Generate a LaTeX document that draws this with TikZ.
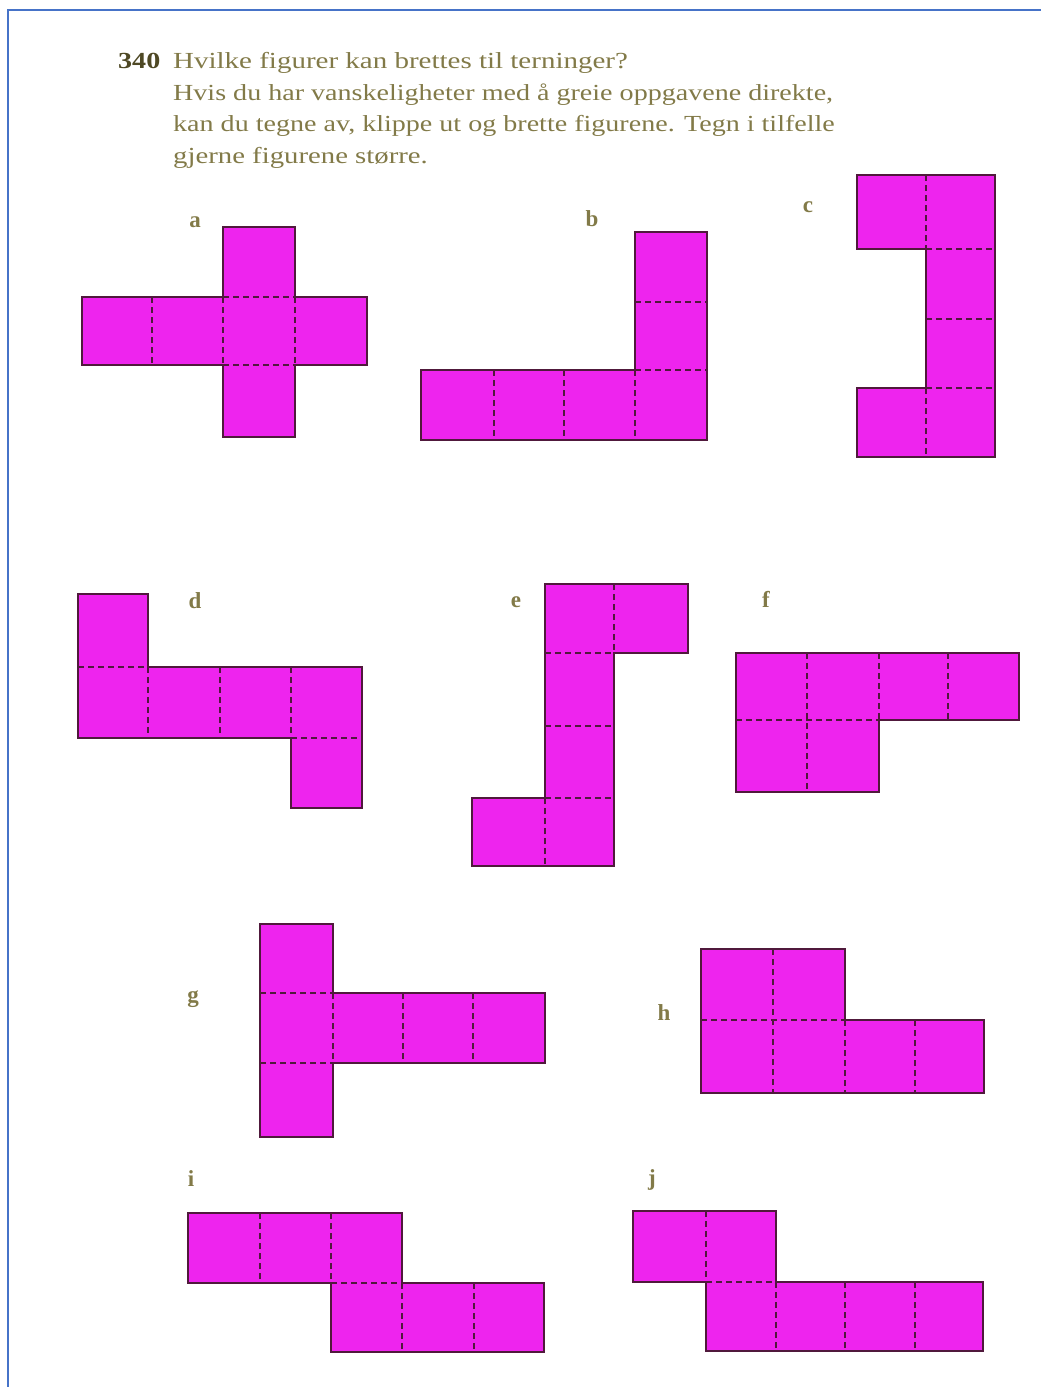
\documentclass[tikz,border=0pt]{standalone}
\usepackage{fontspec}
\setmainfont{Liberation Serif}
\definecolor{netpink}{RGB}{238,36,238}
\definecolor{netedge}{RGB}{80,25,60}
\definecolor{inkolive}{RGB}{130,122,72}
\definecolor{inkdark}{RGB}{78,72,36}
\definecolor{frameblue}{RGB}{70,115,200}
\newcommand{\widetext}[2][1.22]{\scalebox{#1}[1]{#2}}
\tikzset{
  face/.style={fill=netpink, draw=netedge, line width=1.4pt, line join=miter},
  fold/.style={draw=netedge, line width=1.2pt, dash pattern=on 6pt off 4pt},
  lbl/.style={text=inkolive, anchor=base, inner sep=0pt, font=\fontsize{23}{23}\selectfont\bfseries},
  txt/.style={text=inkolive, anchor=base west, inner sep=0pt, font=\fontsize{23}{23}\selectfont},
  num/.style={text=inkdark, anchor=base west, inner sep=0pt, font=\fontsize{23}{23}\selectfont\bfseries},
  frame/.style={draw=frameblue, line width=1.6pt}
}
\begin{document}
\begin{tikzpicture}[x=1pt,y=-1pt]
\useasboundingbox (0,0) rectangle (1041,1387);
% frame
\coordinate (fb) at (8,1387);
\coordinate (fc) at (8,10);
\coordinate (fr) at (1041,10);
\draw[frame] (fb) -- (fc) -- (fr);
% heading
\node[num] (n340) at (118,68) {\widetext{340}};
\node[txt] (t1) at (173,68) {\widetext[1.26]{Hvilke figurer kan brettes til terninger?}};
\node[txt] (t2) at (173,100) {\widetext{Hvis du har vanskeligheter med å greie oppgavene direkte,}};
\node[txt] (t3) at (173,131.5) {\widetext{kan du tegne av, klippe ut og brette figurene. Tegn i tilfelle}};
\node[txt] (t4) at (173,163) {\widetext[1.25]{gjerne figurene større.}};
% labels
\node[lbl] (la) at (195,227) {a};
\node[lbl] (lb) at (592,226) {b};
\node[lbl] (lc) at (808,212) {c};
\node[lbl] (ld) at (195,608) {d};
\node[lbl] (le) at (516,607) {e};
\node[lbl] (lf) at (766,607) {f};
\node[lbl] (lg) at (193,1002) {g};
\node[lbl] (lh) at (664,1020) {h};
\node[lbl] (li) at (191,1186) {i};
\node[lbl] (lj) at (652,1185) {j};
% a
\draw[face] (82,297)--(223,297)--(223,227)--(295,227)--(295,297)--(367,297)--(367,365)--(295,365)--(295,437)--(223,437)--(223,365)--(82,365)--cycle;
\draw[fold] (152,297)--(152,365) (223,297)--(223,365) (295,297)--(295,365) (223,297)--(295,297) (223,365)--(295,365);
% b
\draw[face] (421,370)--(635,370)--(635,232)--(707,232)--(707,440)--(421,440)--cycle;
\draw[fold] (494,370)--(494,440) (564,370)--(564,440) (635,370)--(635,440) (635,302)--(707,302) (635,370)--(707,370);
% c
\draw[face] (857,175)--(995,175)--(995,457)--(857,457)--(857,388)--(926,388)--(926,249)--(857,249)--cycle;
\draw[fold] (926,175)--(926,249) (926,249)--(995,249) (926,319)--(995,319) (926,388)--(995,388) (926,388)--(926,457);
% d
\draw[face] (78,594)--(148,594)--(148,667)--(362,667)--(362,808)--(291,808)--(291,738)--(78,738)--cycle;
\draw[fold] (78,667)--(148,667) (148,667)--(148,738) (220,667)--(220,738) (291,667)--(291,738) (291,738)--(362,738);
% e
\draw[face] (545,584)--(688,584)--(688,653)--(614,653)--(614,866)--(472,866)--(472,798)--(545,798)--cycle;
\draw[fold] (614,584)--(614,653) (545,653)--(614,653) (545,726)--(614,726) (545,798)--(614,798) (545,798)--(545,866);
% f
\draw[face] (736,653)--(1019,653)--(1019,720)--(879,720)--(879,792)--(736,792)--cycle;
\draw[fold] (807,653)--(807,792) (879,653)--(879,720) (948,653)--(948,720) (736,720)--(879,720);
% g
\draw[face] (260,924)--(333,924)--(333,993)--(545,993)--(545,1063)--(333,1063)--(333,1137)--(260,1137)--cycle;
\draw[fold] (260,993)--(333,993) (260,1063)--(333,1063) (333,993)--(333,1063) (403,993)--(403,1063) (473,993)--(473,1063);
% h
\draw[face] (701,949)--(845,949)--(845,1020)--(984,1020)--(984,1093)--(701,1093)--cycle;
\draw[fold] (773,949)--(773,1093) (701,1020)--(845,1020) (845,1020)--(845,1093) (915,1020)--(915,1093);
% i
\draw[face] (188,1213)--(402,1213)--(402,1283)--(544,1283)--(544,1352)--(331,1352)--(331,1283)--(188,1283)--cycle;
\draw[fold] (260,1213)--(260,1283) (331,1213)--(331,1283) (331,1283)--(402,1283) (402,1283)--(402,1352) (474,1283)--(474,1352);
% j
\draw[face] (633,1211)--(776,1211)--(776,1282)--(983,1282)--(983,1351)--(706,1351)--(706,1282)--(633,1282)--cycle;
\draw[fold] (706,1211)--(706,1282) (706,1282)--(776,1282) (776,1282)--(776,1351) (845,1282)--(845,1351) (915,1282)--(915,1351);
\end{tikzpicture}
\end{document}
